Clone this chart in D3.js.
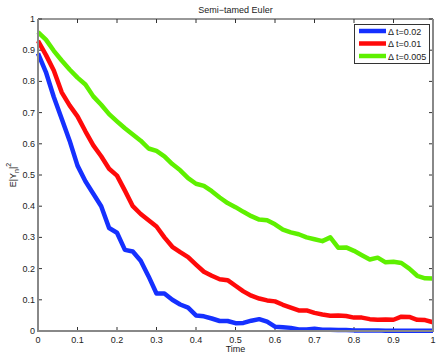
<!DOCTYPE html>
<html>
<head>
<meta charset="utf-8">
<script src="https://cdn.jsdelivr.net/npm/d3@7"></script>
<style>
  body { margin: 0; background: #fff; }
  text { font-family: "Liberation Sans", Arial, sans-serif; fill: #222; }
</style>
</head>
<body>
<div id="chart"></div>
<script>
const times = d3.range(0, 51).map(i => i * 0.02);

const blueVals = [0.89, 0.83, 0.75, 0.68, 0.61, 0.53, 0.48, 0.44, 0.40, 0.33,
  0.315, 0.26, 0.255, 0.225, 0.175, 0.12, 0.12, 0.10, 0.085, 0.075,
  0.05, 0.047, 0.04, 0.032, 0.032, 0.025, 0.026, 0.033, 0.038, 0.03,
  0.014, 0.012, 0.01, 0.005, 0.005, 0.007, 0.004, 0.004, 0.003, 0.003,
  0.002, 0.002, 0.002, 0.002, 0.001, 0.001, 0.001, 0.001, 0.001, 0.001, 0.001];

const redVals = [0.93, 0.885, 0.835, 0.765, 0.723, 0.688, 0.64, 0.595, 0.56, 0.52,
  0.498, 0.45, 0.40, 0.375, 0.355, 0.335, 0.30, 0.27, 0.253, 0.237,
  0.213, 0.19, 0.177, 0.166, 0.163, 0.145, 0.127, 0.113, 0.104, 0.098,
  0.095, 0.084, 0.075, 0.066, 0.066, 0.058, 0.053, 0.049, 0.05, 0.048,
  0.043, 0.043, 0.038, 0.036, 0.037, 0.036, 0.046, 0.045, 0.036, 0.035, 0.028];

const greenVals = [0.958, 0.934, 0.898, 0.867, 0.838, 0.812, 0.79, 0.752, 0.725, 0.695,
  0.672, 0.65, 0.63, 0.61, 0.585, 0.577, 0.56, 0.535, 0.515, 0.49,
  0.472, 0.465, 0.448, 0.428, 0.41, 0.397, 0.382, 0.368, 0.357, 0.355,
  0.342, 0.325, 0.316, 0.31, 0.30, 0.294, 0.288, 0.30, 0.267, 0.268,
  0.257, 0.243, 0.229, 0.235, 0.22, 0.222, 0.218, 0.20, 0.177, 0.169, 0.168];

const seriesNames = ['\u0394 t=0.02', '\u0394 t=0.01', '\u0394 t=0.005'];
const seriesColors = ['#1530ff', '#ff0a0a', '#5ef000'];
const xTicks = d3.range(0, 11).map(i => i / 10);
const yTicks = d3.range(0, 11).map(i => i / 10);

const W = 439, H = 356;
const margin = { top: 19, right: 6, bottom: 25, left: 38 };

const svg = d3.select('#chart').append('svg').attr('width', W).attr('height', H);

const x = d3.scaleLinear().domain([0, 1]).range([margin.left, W - margin.right]);
const y = d3.scaleLinear().domain([0, 1]).range([H - margin.bottom, margin.top]);

const fmt = d => d === 0 ? '0' : d === 1 ? '1' : d3.format('.1f')(d);

// ticks (inside, all four sides)
const tickLen = 4;
xTicks.forEach(t => {
  svg.append('line').attr('x1', x(t)).attr('x2', x(t))
    .attr('y1', y(0)).attr('y2', y(0) - tickLen).attr('stroke', '#333');
  svg.append('line').attr('x1', x(t)).attr('x2', x(t))
    .attr('y1', y(1)).attr('y2', y(1) + tickLen).attr('stroke', '#333');
  svg.append('text').attr('x', x(t)).attr('y', y(0) + 12)
    .attr('text-anchor', 'middle').attr('font-size', '9px').text(fmt(t));
});
yTicks.forEach(t => {
  svg.append('line').attr('x1', x(0)).attr('x2', x(0) + tickLen)
    .attr('y1', y(t)).attr('y2', y(t)).attr('stroke', '#333');
  svg.append('line').attr('x1', x(1)).attr('x2', x(1) - tickLen)
    .attr('y1', y(t)).attr('y2', y(t)).attr('stroke', '#333');
  svg.append('text').attr('x', x(0) - 3).attr('y', y(t) + 3)
    .attr('text-anchor', 'end').attr('font-size', '9px').text(fmt(t));
});

// lines
const line = d3.line().x(d => x(d[0])).y(d => y(d[1]));
[blueVals, redVals, greenVals].forEach((vals, i) => {
  svg.append('path')
    .datum(times.map((t, j) => [t, vals[j]]))
    .attr('d', line)
    .attr('fill', 'none')
    .attr('stroke', seriesColors[i])
    .attr('stroke-width', 4.5)
    .attr('stroke-linejoin', 'round');
});

// axes box
svg.append('line').attr('x1', x(0)).attr('x2', x(1)).attr('y1', y(1)).attr('y2', y(1))
  .attr('stroke', '#333').attr('stroke-width', 1);
svg.append('line').attr('x1', x(0)).attr('x2', x(1)).attr('y1', y(0)).attr('y2', y(0))
  .attr('stroke', '#888').attr('stroke-width', 2);
svg.append('line').attr('x1', x(0)).attr('x2', x(0)).attr('y1', y(0) + 1).attr('y2', y(1))
  .attr('stroke', '#888').attr('stroke-width', 2);
svg.append('line').attr('x1', x(1)).attr('x2', x(1)).attr('y1', y(0) + 1).attr('y2', y(1))
  .attr('stroke', '#888').attr('stroke-width', 2);

// title and labels
svg.append('text').attr('x', (x(0) + x(1)) / 2).attr('y', 13)
  .attr('text-anchor', 'middle').attr('font-size', '9px').text('Semi\u2212tamed Euler');
svg.append('text').attr('x', (x(0) + x(1)) / 2).attr('y', 352)
  .attr('text-anchor', 'middle').attr('font-size', '9px').text('Time');

const yl = svg.append('text').attr('transform', 'translate(16,175) rotate(-90)')
  .attr('text-anchor', 'middle').attr('font-size', '9px');
yl.append('tspan').text('E|Y');
yl.append('tspan').attr('font-size', '7px').attr('dy', 3).text('n');
yl.append('tspan').attr('dy', -3).text('|');
yl.append('tspan').attr('font-size', '7px').attr('dy', -5).text('2');

// legend
const lg = svg.append('g');
lg.append('rect').attr('x', 354.5).attr('y', 24.5).attr('width', 75).attr('height', 39)
  .attr('fill', '#fff').attr('stroke', '#333');
seriesNames.forEach((name, i) => {
  const ly = 31 + i * 12.5;
  lg.append('line').attr('x1', 359).attr('x2', 386).attr('y1', ly).attr('y2', ly)
    .attr('stroke', seriesColors[i]).attr('stroke-width', 4.5);
  lg.append('text').attr('x', 388).attr('y', ly + 3.5).attr('font-size', '9px').text(name);
});
</script>
</body>
</html>
